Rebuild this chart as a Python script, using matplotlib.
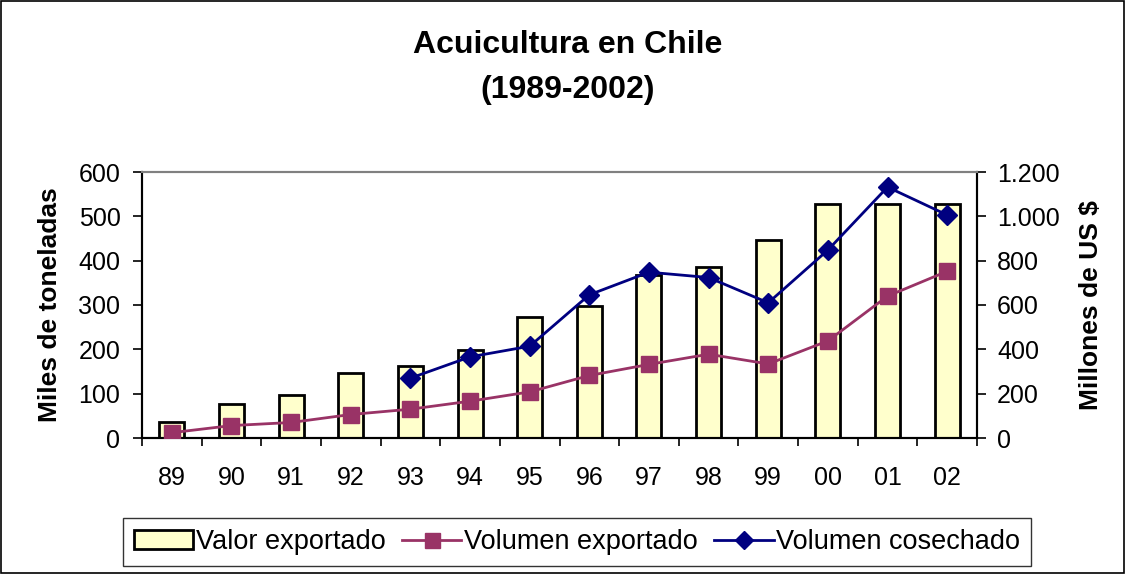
import matplotlib
matplotlib.use("Agg")
import matplotlib.pyplot as plt
from matplotlib.ticker import FuncFormatter, FixedLocator
from matplotlib.patches import Rectangle
import numpy as np

plt.rcParams['font.family'] = ['Liberation Sans', 'DejaVu Sans']

years = ["89", "90", "91", "92", "93", "94", "95", "96", "97", "98", "99", "00", "01", "02"]
valor_exportado = [72, 152, 193, 295, 323, 396, 545, 597, 734, 771, 892, 1056, 1056, 1056]
volumen_exportado = [12, 28, 35, 53, 65, 83, 104, 141, 166, 189, 167, 219, 320, 376]
volumen_cosechado = [None, None, None, None, 135, 183, 207, 323, 374, 362, 305, 424, 566, 503]

fig = plt.figure(figsize=(11.26, 5.74), dpi=100)
fig.patch.set_facecolor('white')
fig.add_artist(Rectangle((0.001, 0.001), 0.997, 0.997, transform=fig.transFigure,
                         fill=False, edgecolor='black', linewidth=1.2))

L, R, B, T = 142/1126, 977/1126, 1 - 438/574, 1 - 172/574
ax = fig.add_axes([L, B, R - L, T - B])
ax2 = ax.twinx()
ax.set_zorder(ax2.get_zorder() + 1)
ax.patch.set_visible(False)

x = np.arange(len(years))
bars = ax2.bar(x, valor_exportado, width=0.42, color='#FFFFCC', edgecolor='black',
               linewidth=2, label='Valor exportado', zorder=2)
ax2.set_ylim(0, 1200)
ax2.yaxis.set_major_locator(FixedLocator([0, 200, 400, 600, 800, 1000, 1200]))
ax2.yaxis.set_major_formatter(FuncFormatter(lambda v, p: f"{int(v):,}".replace(",", ".")))

vc = np.array([np.nan if v is None else v for v in volumen_cosechado], dtype=float)
l1, = ax.plot(x, volumen_exportado, color='#993366', linewidth=2, marker='s',
              markersize=12, label='Volumen exportado', zorder=3)
l2, = ax.plot(x, vc, color='#000080', linewidth=2, marker='D', markersize=10.5,
              label='Volumen cosechado', zorder=4)
ax.set_ylim(0, 600)
ax.set_yticks([0, 100, 200, 300, 400, 500, 600])
ax.set_xlim(-0.5, len(years) - 0.5)

ax.set_xticks(np.arange(-0.5, len(years)), minor=False)
ax.set_xticklabels([])
ax.set_xticks(x, minor=True)
ax.set_xticklabels(years, minor=True)
ax.tick_params(axis='x', which='major', direction='out', length=6, width=1.2, color='black')
ax.tick_params(axis='x', which='minor', length=0, pad=20, labelsize=18)
ax.tick_params(axis='y', direction='out', length=6.5, width=1.2, labelsize=18, pad=9)
ax2.tick_params(axis='y', direction='out', length=6.5, width=1.2, labelsize=18, pad=8)

for a in (ax, ax2):
    a.spines['top'].set_color('#808080')
    a.spines['top'].set_linewidth(1.5)
    a.spines['left'].set_linewidth(1.5)
    a.spines['bottom'].set_linewidth(1.5)
    a.spines['right'].set_linewidth(1.5)

ax.set_ylabel('Miles de toneladas', fontsize=19, fontweight='bold', labelpad=12)
ax2.set_ylabel('Millones de US $', fontsize=19, fontweight='bold', labelpad=14, rotation=90)

fig.text(568/1126, 1 - 45/574, 'Acuicultura en Chile', ha='center', va='center',
         fontsize=23, fontweight='bold')
fig.text(568/1126, 1 - 90/574, '(1989-2002)', ha='center', va='center',
         fontsize=23, fontweight='bold')

leg = fig.legend([bars, l1, l2], ['Valor exportado', 'Volumen exportado', 'Volumen cosechado'],
                 loc='center', bbox_to_anchor=(577/1126, 1 - 542/574), ncol=3,
                 fontsize=19.5, frameon=True, fancybox=False, edgecolor='black',
                 handlelength=2.2, handletextpad=0.1, columnspacing=0.6,
                 borderpad=0.4, markerscale=0.9)
leg.get_frame().set_linewidth(1.0)

fig.savefig('out.png', dpi=100, facecolor='white')
